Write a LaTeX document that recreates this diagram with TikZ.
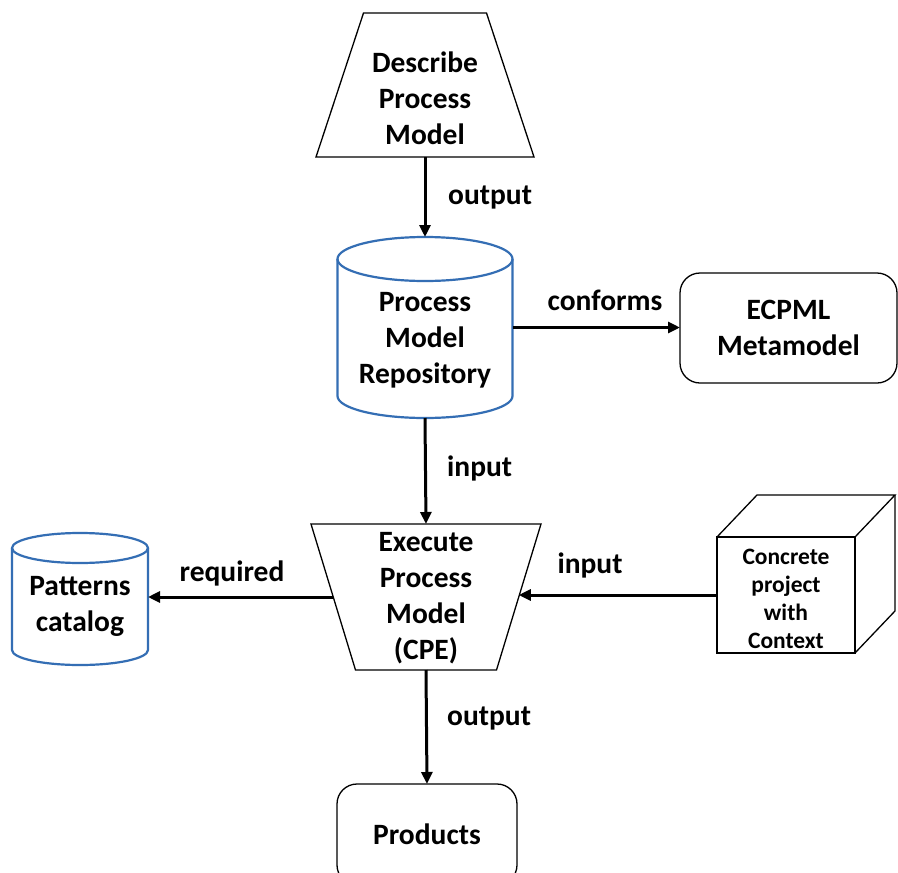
\documentclass[tikz,border=0pt]{standalone}
\usepackage{fontspec}
\setmainfont{Carlito}
\usetikzlibrary{arrows.meta,calc}
\definecolor{cylblue}{RGB}{52,110,180}
\begin{document}
\begin{tikzpicture}[x=1pt,y=1pt,
 box/.style={draw=none, inner sep=0pt, outer sep=0pt},
 txt/.style={font=\fontsize{29.5}{36}\selectfont\bfseries, align=center, inner sep=0pt},
 small/.style={font=\fontsize{23.5}{28}\selectfont\bfseries, align=center, inner sep=0pt},
 lbl/.style={font=\fontsize{29.5}{30}\selectfont\bfseries, inner sep=0pt},
 outline/.style={draw=black, line width=1.3pt, line join=miter},
 rbox/.style={draw=black, line width=1.3pt, rounded corners=20pt, outer sep=0pt},
 cyl/.style={draw=cylblue, line width=2.2pt},
 conn/.style={line width=3pt, -{Triangle[length=12pt,width=11pt]}},
]
\fill[white] (0,0) rectangle (898,-873);
\useasboundingbox (0,0) rectangle (898,-873);

% Describe Process Model
\node[box, minimum width=218pt, minimum height=144pt] (desc) at (425,-85) {};
\draw[outline] (desc.south west) -- (desc.south east) -- ($(desc.north east)+(-47.5,0)$) -- ($(desc.north west)+(47.5,0)$) -- cycle;
\node[txt] (desct) at (425,-98) {Describe\\Process\\Model};

% Process Model Repository
\node[box, minimum width=175pt, minimum height=181pt] (repo) at (425,-327.5) {};
\draw[cyl] ($(repo.north)+(0,-22)$) ellipse [x radius=87.5, y radius=22];
\draw[cyl] ($(repo.north west)+(0,-22)$) -- ($(repo.south west)+(0,22)$) arc[start angle=180, end angle=360, x radius=87.5, y radius=22] -- ($(repo.north east)+(0,-22)$);
\node[txt] (repot) at (425,-340) {Process\\Model\\Repository};

% ECPML Metamodel
\node[rbox, txt, minimum width=217pt, minimum height=110pt] (meta) at (788.5,-328) {ECPML\\Metamodel};

% Execute Process Model
\node[box, minimum width=230pt, minimum height=146pt] (exec) at (426,-597) {};
\draw[outline] (exec.north west) -- (exec.north east) -- ($(exec.south east)+(-44.5,0)$) -- ($(exec.south west)+(44.5,0)$) -- cycle;
\node[txt] (exect) at (426,-598) {Execute\\Process\\Model\\(CPE)};
\coordinate (execL) at ($(exec.north west)!0.5!(exec.south west)+(22.25,0)$);
\coordinate (execR) at ($(exec.north east)!0.5!(exec.south east)+(-22.25,0)$);

% Patterns catalog
\node[box, minimum width=136pt, minimum height=132pt] (pat) at (80,-599) {};
\draw[cyl] ($(pat.north)+(0,-15)$) ellipse [x radius=68, y radius=15];
\draw[cyl] ($(pat.north west)+(0,-15)$) -- ($(pat.south west)+(0,15)$) arc[start angle=180, end angle=360, x radius=68, y radius=15] -- ($(pat.north east)+(0,-15)$);
\node[txt] (patt) at (80,-606) {Patterns\\catalog};

% Concrete project cube
\node[box, outline, minimum width=138pt, minimum height=116pt] (cube) at (786,-595) {};
\draw[outline] (cube.north west) -- ++(40,42) -- ++(138,0) -- (cube.north east);
\draw[outline] ($(cube.north east)+(40,42)$) -- ++(0,-116) -- (cube.south east);
\node[small] (cubet) at (786,-598.5) {Concrete\\project\\with\\Context};

% Products
\node[rbox, txt, minimum width=180pt, minimum height=101pt] (prod) at (427,-834.5) {Products};

% connectors
\draw[conn] (desc.south) -- (repo.north);
\draw[conn] (repo.east) -- (repo.east -| meta.west);
\draw[conn] (repo.south) -- (exec.north);
\draw[conn] (execL) -- (execL -| pat.east);
\draw[conn] (cube.west) -- (cube.west -| execR);
\draw[conn] (exec.south) -- (prod.north);

% labels
\node[lbl, anchor=west] (l1) at (448,-198) {output};
\node[lbl] (l2) at (605,-300) {conforms};
\node[lbl, anchor=west] (l3) at (447,-468) {input};
\node[lbl] (l4) at (232,-573) {required};
\node[lbl] (l5) at (590,-565) {input};
\node[lbl, anchor=west] (l6) at (447,-719) {output};
\end{tikzpicture}
\end{document}
